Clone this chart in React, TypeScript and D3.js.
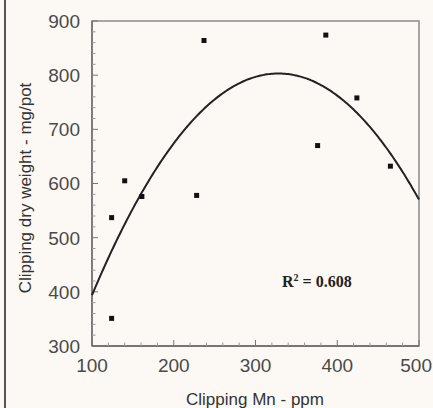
import React from 'react'
import * as d3 from 'd3'

// scatter points: Mn (ppm) and dry weight (mg/pot)
const mnPpm = [124, 124, 140, 161, 228, 237, 376, 386, 424, 465]
const dryWeight = [537, 351, 605, 576, 578, 864, 670, 874, 758, 632]

// quadratic fit drawn on the figure: y = a x^2 + b x + c
const fitA = -0.00787
const fitB = 5.163
const fitC = -43.7

const xTicks = [100, 200, 300, 400, 500]
const yTicks = [300, 400, 500, 600, 700, 800, 900]
const r2Label = '0.608'

const App = () => {
  const width = 433
  const height = 408
  const left = 92
  const top = 21
  const right = 419
  const bottom = 346

  const x = d3.scaleLinear().domain([100, 500]).range([left, right])
  const y = d3.scaleLinear().domain([300, 900]).range([bottom, top])

  const fitPts = d3.range(100, 500.1, 2).map(v => [v, fitA * v * v + fitB * v + fitC])
  const fitLine = d3.line()
    .x(d => x(d[0]))
    .y(d => y(d[1]))
    .curve(d3.curveBasis)

  const xMinor = d3.range(120, 500, 20).filter(v => v % 100 !== 0)
  const yMinor = d3.range(320, 900, 20).filter(v => v % 100 !== 0)
  const labelColor = '#4a4a4a'
  const sans = 'Liberation Sans, Arial, Helvetica, sans-serif'

  return (
    <svg width={width} height={height} style={{ position: 'absolute', left: 0, top: 0 }}>
      <rect width={width} height={height} fill="#fcf9f5" />
      {/* page frame on the left */}
      <line x1={5} x2={5} y1={0} y2={height} stroke="#555" strokeWidth={2} />

      {/* plot frame */}
      <rect x={left} y={top} width={right - left} height={bottom - top}
        fill="none" stroke="#8a8a8a" strokeWidth={1.5} />
      <line x1={left} x2={left} y1={top} y2={bottom} stroke="#666" strokeWidth={1.3} />
      <line x1={left} x2={right} y1={bottom} y2={bottom} stroke="#666" strokeWidth={1.3} />

      {/* ticks, pointing inward */}
      {yTicks.map(t => (
        <line key={'yt' + t} x1={left} x2={left + 6} y1={y(t)} y2={y(t)} stroke="#777" />
      ))}
      {yMinor.map(t => (
        <line key={'ym' + t} x1={left} x2={left + 3.5} y1={y(t)} y2={y(t)} stroke="#999" />
      ))}
      {xTicks.map(t => (
        <line key={'xt' + t} x1={x(t)} x2={x(t)} y1={bottom} y2={bottom - 6} stroke="#777" />
      ))}
      {xMinor.map(t => (
        <line key={'xm' + t} x1={x(t)} x2={x(t)} y1={bottom} y2={bottom - 3.5} stroke="#999" />
      ))}

      {/* tick labels */}
      {yTicks.map(t => (
        <text key={'yl' + t} x={left - 12} y={y(t)} dy="0.36em" textAnchor="end"
          fontFamily={sans} fontSize={19} fill={labelColor}>{t}</text>
      ))}
      {xTicks.map((t, i) => {
        const last = i === xTicks.length - 1
        return (
          <text key={'xl' + t} x={last ? width - 1 : x(t)} y={372}
            textAnchor={last ? 'end' : 'middle'}
            fontFamily={sans} fontSize={19} fill={labelColor}>{t}</text>
        )
      })}

      {/* axis titles */}
      <text x={255} y={405} textAnchor="middle" fontFamily={sans} fontSize={17} fill="#333">
        Clipping Mn - ppm
      </text>
      <text transform={`translate(31, 188) rotate(-90)`} textAnchor="middle"
        fontFamily={sans} fontSize={17} fill="#333">
        Clipping dry weight - mg/pot
      </text>

      {/* fitted curve */}
      <path d={fitLine(fitPts) || ''} fill="none" stroke="#222" strokeWidth={2} />

      {/* points */}
      {mnPpm.map((m, i) => (
        <rect key={i} x={x(m) - 2.5} y={y(dryWeight[i]) - 2.5} width={5} height={5} fill="#111" />
      ))}

      {/* R squared */}
      <text x={282} y={287} fontFamily="Liberation Serif, Times New Roman, serif" fontSize={16}
        fontWeight="bold" fill="#222">
        R<tspan dy={-6} fontSize={10}>2</tspan><tspan dy={6}> = {r2Label}</tspan>
      </text>
    </svg>
  )
}

export default App
